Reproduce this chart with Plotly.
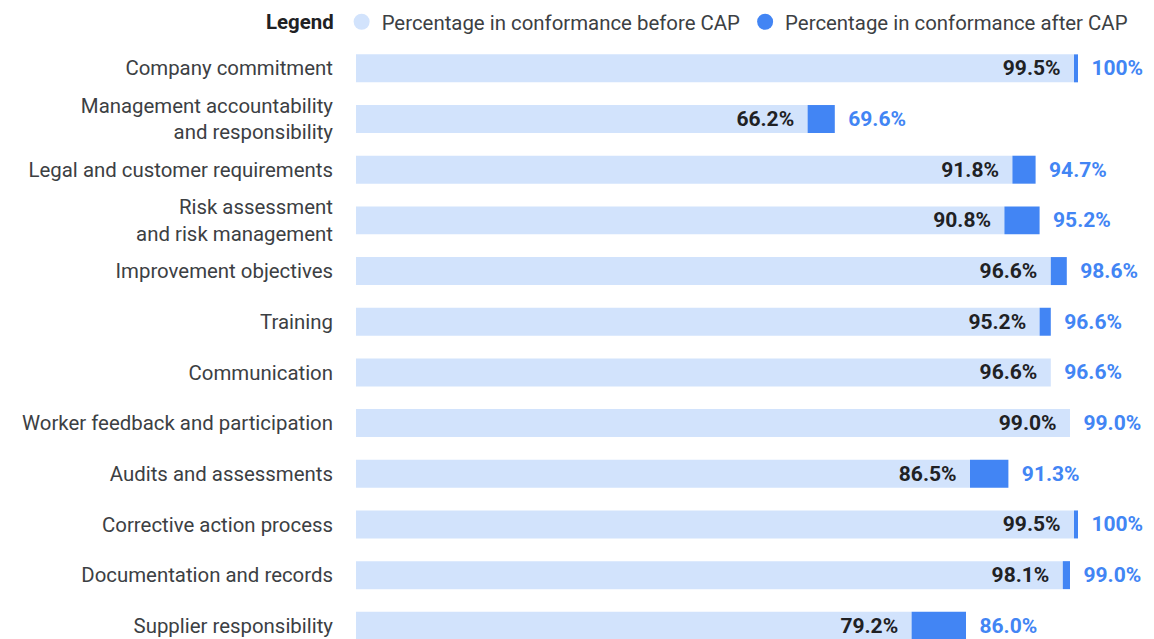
import plotly.graph_objects as go

categories = [
    "Company commitment",
    "Management accountability<br>and responsibility",
    "Legal and customer requirements",
    "Risk assessment<br>and risk management",
    "Improvement objectives",
    "Training",
    "Communication",
    "Worker feedback and participation",
    "Audits and assessments",
    "Corrective action process",
    "Documentation and records",
    "Supplier responsibility",
]
before_cap = [99.5, 66.2, 91.8, 90.8, 96.6, 95.2, 96.6, 99.0, 86.5, 99.5, 98.1, 79.2]
after_cap = [100, 69.6, 94.7, 95.2, 98.6, 96.6, 96.6, 99.0, 91.3, 100, 99.0, 86.0]

def fmt(v):
    return "100%" if v == 100 else f"{v:.1f}%"

LIGHT = "#D2E3FC"
DARK = "#4285F4"
TXT = "#202124"
LBL = "#3C4043"
FONT = "Roboto"
NB = "\u00a0"

W, H = 1146, 631  # page body has an 8px margin

fig = go.Figure()
fig.add_trace(go.Bar(
    y=categories, x=before_cap, base=0, orientation="h",
    marker=dict(color=LIGHT, line=dict(width=0)),
    text=[fmt(v) + NB * 2 for v in before_cap],
    textposition="inside", insidetextanchor="end",
    textfont=dict(family=FONT, size=21, color=TXT, weight="bold"),
    constraintext="none", showlegend=False, hoverinfo="skip",
))
fig.add_trace(go.Bar(
    y=categories, x=[a - b for a, b in zip(after_cap, before_cap)], base=before_cap,
    orientation="h",
    marker=dict(color=DARK, line=dict(width=0)),
    text=[NB * 2 + fmt(v) for v in after_cap],
    textposition="outside",
    textfont=dict(family=FONT, size=21, color=DARK, weight="bold"),
    constraintext="none", showlegend=False, hoverinfo="skip",
))
fig.add_trace(go.Scatter(
    x=[None], y=[None], mode="markers", name="Percentage in conformance before CAP",
    marker=dict(color=LIGHT, size=17, symbol="circle"),
))
fig.add_trace(go.Scatter(
    x=[None], y=[None], mode="markers", name="Percentage in conformance after CAP",
    marker=dict(color=DARK, size=17, symbol="circle"),
))

fig.update_layout(
    width=W, height=H,
    margin=dict(l=348, r=0, t=35, b=0, autoexpand=False),
    paper_bgcolor="white", plot_bgcolor="white",
    barmode="overlay", bargap=0.448,
    font=dict(family=FONT, size=20.4, color=LBL),
    xaxis=dict(range=[9.75, 109.5], visible=False, fixedrange=True),
    yaxis=dict(
        type="category", range=[11.26, -0.5], showgrid=False, zeroline=False,
        showline=False, ticks="", ticklabelstandoff=22, automargin=False,
        tickfont=dict(family=FONT, size=20.4, color=LBL),
    ),
    legend=dict(
        orientation="h", xref="container", yref="container",
        x=256 / W, xanchor="left", y=1 - 14 / H, yanchor="middle",
        title=dict(text="<b>Legend</b>", side="left",
                   font=dict(family=FONT, size=20.4, color=TXT)),
        font=dict(family=FONT, size=20.4, color=LBL),
        itemwidth=30, bgcolor="rgba(0,0,0,0)",
    ),
    uniformtext=dict(mode=False),
)

fig.write_html("out.html")
